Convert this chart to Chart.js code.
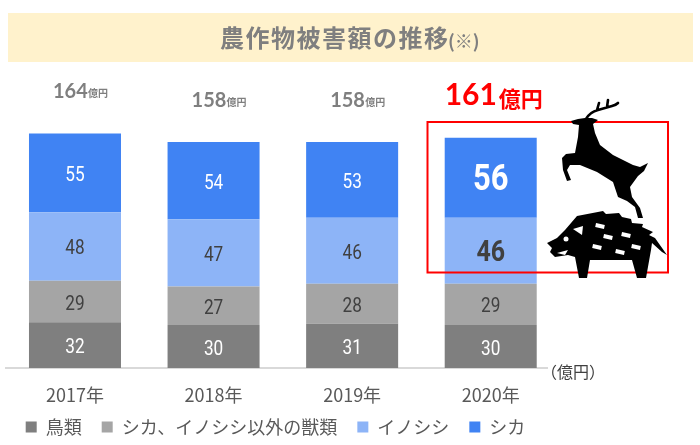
<!DOCTYPE html>
<html lang="ja">
<head>
<meta charset="utf-8">
<title>農作物被害額の推移</title>
<script src="https://cdn.jsdelivr.net/npm/chart.js@4"></script>
<style>
  html, body { margin: 0; background: #fff; }
  canvas { display: block; }
</style>
</head>
<body>
<canvas id="grafico" width="700" height="445"></canvas>
<script>
// dados:
const categories = ["2017年", "2018年", "2019年", "2020年"];
const birds = [32, 30, 31, 30];
const otherBeasts = [29, 27, 28, 29];
const boars = [48, 47, 46, 46];
const deer = [55, 54, 53, 56];
const totals = [164, 158, 158, 161];

const JP = '"Noto Sans CJK JP", sans-serif';
const GRAY = "#7f7f7f";

function texto(ctx, str, x, y, font, color, align = "center") {
  ctx.font = font;
  ctx.fillStyle = color;
  ctx.textAlign = align;
  ctx.textBaseline = "middle";
  ctx.fillText(str, x, y);
}

// faixa do título, desenhada antes de tudo
const tituloPlugin = {
  id: "titulo",
  afterLayout(chart) {
    // sobe a legenda para perto dos anos
    chart.legend.top -= 10;
  },
  beforeDraw(chart) {
    const ctx = chart.ctx;
    ctx.save();
    ctx.fillStyle = "#fff2cc";
    ctx.fillRect(8, 13, 685, 49);
    ctx.letterSpacing = "1.5px";
    texto(ctx, "農作物被害額の推移", 220, 38, `bold 24px ${JP}`, GRAY, "left");
    ctx.letterSpacing = "0px";
    texto(ctx, "(※)", 448, 41, `bold 18px ${JP}`, GRAY, "left");
    ctx.restore();
  },
};

// números dentro das barras e totais em cima
const rotulosPlugin = {
  id: "rotulos",
  afterDatasetsDraw(chart) {
    const ctx = chart.ctx;
    ctx.save();
    chart.data.datasets.forEach((ds, d) => {
      chart.getDatasetMeta(d).data.forEach((bar, i) => {
        const y = (bar.y + bar.base) / 2 + 3;
        let font = "20px Roboto";
        if (i === 3 && d === 3) font = "bold 36px Roboto";
        if (i === 3 && d === 2) font = "bold 29px Roboto";
        // dígitos mais estreitos, como no original
        ctx.save();
        ctx.translate(bar.x, y);
        ctx.scale(0.86, 1);
        texto(ctx, String(ds.data[i]), 0, 0, font, ds.valueColor);
        ctx.restore();
      });
    });
    const yScale = chart.scales.y;
    totals.forEach((total, i) => {
      const x = chart.scales.x.getPixelForValue(i);
      const y = yScale.getPixelForValue(total) - 42;
      if (i === 3) {
        texto(ctx, String(total), x - 46, y, "bold 30px Lato", "#ff0000", "left");
        texto(ctx, "億円", x + 8, y + 3, `bold 22px ${JP}`, "#ff0000", "left");
      } else {
        texto(ctx, String(total), x - 22, y, "bold 20px Lato", GRAY, "left");
        texto(ctx, "億円", x + 13, y + 2, `bold 10px ${JP}`, GRAY, "left");
      }
    });
    ctx.restore();
  },
};

function poligono(ctx, pts) {
  ctx.beginPath();
  pts.forEach((p, i) => (i ? ctx.lineTo(p[0], p[1]) : ctx.moveTo(p[0], p[1])));
  ctx.closePath();
  ctx.fill();
}

// caixa vermelha, silhuetas e unidade
const enfeitesPlugin = {
  id: "enfeites",
  afterDraw(chart) {
    const ctx = chart.ctx;
    ctx.save();
    ctx.strokeStyle = "#ff0000";
    ctx.lineWidth = 2;
    ctx.strokeRect(427.5, 122, 240.5, 150.5);

    // unidade com fundo branco por cima do eixo
    ctx.fillStyle = "#fff";
    ctx.fillRect(548, 362, 56, 22);
    texto(ctx, "（億円）", 541, 372, `16px ${JP}`, "#404040", "left");

    // cervo
    ctx.fillStyle = "#000";
    poligono(ctx, [[571, 121], [578, 119], [585, 118], [592, 118], [598, 120], [593, 124], [595, 133],
      [600, 145], [613, 155], [633, 165], [640, 167], [648, 163], [644, 171], [638, 176], [630, 187],
      [632, 197], [640, 208], [643, 218], [638, 218], [635, 207], [627, 201], [618, 197], [613, 182],
      [597, 172], [580, 165], [570, 165], [567, 170], [571, 180], [567, 181], [563, 170], [562, 158],
      [566, 154], [575, 153], [578, 137], [579, 125], [573, 124]]);
    ctx.strokeStyle = "#000";
    ctx.lineWidth = 2.6;
    ctx.lineCap = "round";
    ctx.beginPath();
    ctx.moveTo(586, 119);
    ctx.quadraticCurveTo(590, 112, 598, 110);
    ctx.lineTo(612, 106);
    ctx.quadraticCurveTo(616, 105, 618, 103);
    ctx.moveTo(597, 110);
    ctx.lineTo(599, 103);
    ctx.moveTo(607, 107);
    ctx.lineTo(608, 100);
    ctx.stroke();

    // javali
    poligono(ctx, [[547, 243], [557, 238], [565, 230], [577, 216], [603, 211], [606, 214], [619, 213],
      [622, 217], [631, 219], [632, 223], [643, 224], [642, 227], [653, 232], [649, 235], [655, 238],
      [667, 255], [662, 252], [652, 243], [651, 250], [646, 278], [637, 278], [632, 260], [590, 260],
      [587, 278], [579, 278], [575, 257], [568, 255], [555, 257], [550, 252], [552, 248]]);
    ctx.fillStyle = "#fff";
    poligono(ctx, [[557, 253], [568, 250], [565, 255]]);
    poligono(ctx, [[573, 229], [583, 226], [582, 235]]);
    ctx.beginPath();
    ctx.arc(566, 239, 2.5, 0, Math.PI * 2);
    ctx.fill();
    [[600, 226], [608, 237], [626, 235], [597, 247], [620, 252], [636, 247]].forEach(([x, y]) => {
      ctx.save();
      ctx.translate(x, y);
      ctx.rotate(0.22);
      ctx.fillRect(-4.5, -2, 9, 4);
      ctx.restore();
    });
    ctx.restore();
  },
};

const serie = (label, data, backgroundColor, valueColor) => ({
  label, data, backgroundColor, valueColor,
  borderWidth: 0,
  barPercentage: 0.664,
  categoryPercentage: 1,
});

new Chart(document.getElementById("grafico"), {
  type: "bar",
  data: {
    labels: categories,
    datasets: [
      serie("鳥類", birds, "#7f7f7f", "#ffffff"),
      serie("シカ、イノシシ以外の獣類", otherBeasts, "#a5a5a5", "#404040"),
      serie("イノシシ", boars, "#8db4f7", "#404040"),
      serie("シカ", deer, "#4083f3", "#ffffff"),
    ],
  },
  options: {
    responsive: false,
    animation: false,
    layout: { padding: { left: 5.7, right: 140, top: 82, bottom: -11 } },
    scales: {
      x: {
        stacked: true,
        afterFit: (scale) => { scale.height = 40; },
        grid: { display: false },
        border: { color: "#d9d9d9", width: 2 },
        ticks: {
          color: "#595959",
          padding: 8,
          font: { size: 18, family: JP },
          maxRotation: 0,
        },
      },
      y: { stacked: true, display: false, min: 0, max: 200 },
    },
    plugins: {
      title: { display: false },
      tooltip: { enabled: false },
      legend: {
        position: "bottom",
        align: "start",
        labels: {
          boxWidth: 11,
          boxHeight: 11,
          padding: 20,
          color: "#595959",
          font: { size: 18, family: JP },
        },
      },
    },
  },
  plugins: [tituloPlugin, rotulosPlugin, enfeitesPlugin],
});
</script>
</body>
</html>
